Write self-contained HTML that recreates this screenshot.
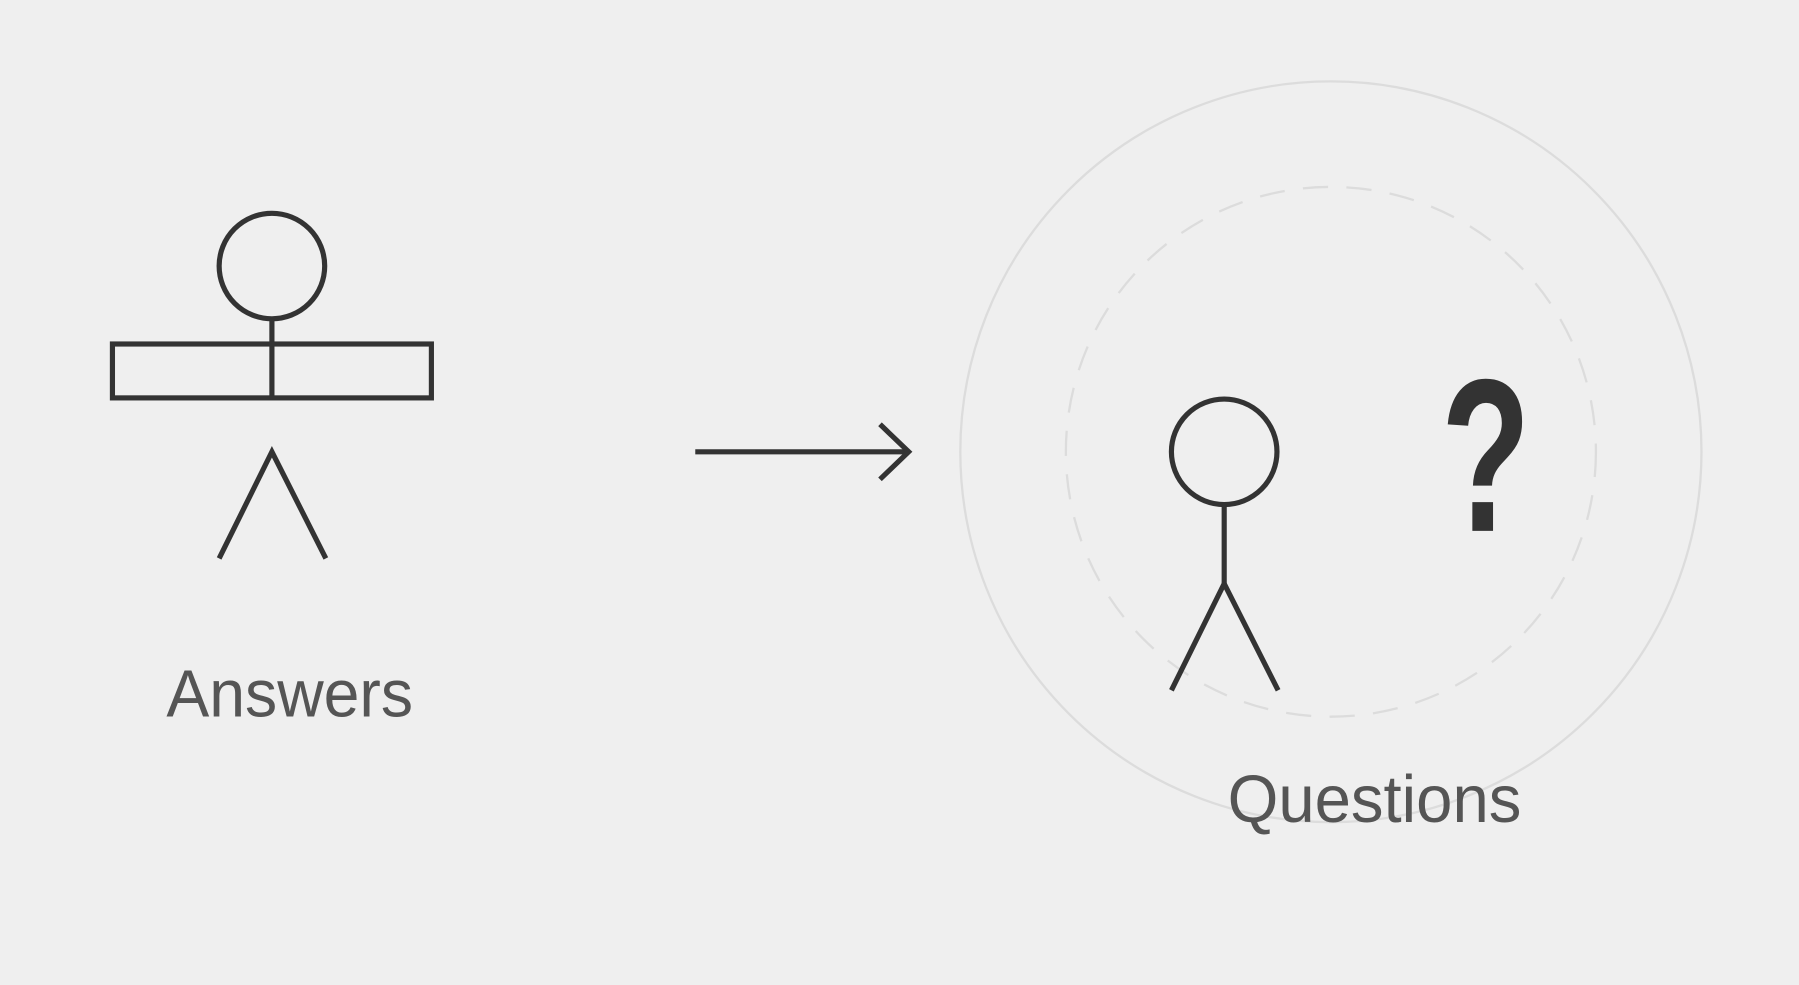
<!DOCTYPE html>
<html><head><meta charset="utf-8"><style>
html,body{margin:0;padding:0;background:#efefef;}
svg{display:block;}
</style></head><body>
<svg width="1799" height="985" viewBox="0 0 1568 859" preserveAspectRatio="none" xmlns="http://www.w3.org/2000/svg">
<rect width="1568" height="859" fill="#efefef"/>
<g fill="none" stroke="#333" stroke-width="4.5">
<circle cx="237" cy="232" r="46"/>
<line x1="237" y1="278" x2="237" y2="347"/>
<rect x="98" y="300" width="278" height="47"/>
<polyline points="191,487 237,394 284,487"/>
<line x1="606" y1="394" x2="790" y2="394"/>
<polyline points="767,370 792,394 767,418"/>
</g>
<circle cx="1160" cy="394" r="323" fill="none" stroke="#dcdcdc" stroke-width="2"/>
<circle cx="1160" cy="394" r="231" fill="none" stroke="#dcdcdc" stroke-width="2" stroke-dasharray="22 16"/>
<g fill="none" stroke="#333" stroke-width="4.5">
<circle cx="1067" cy="394" r="46"/>
<line x1="1067" y1="440" x2="1067" y2="509"/>
<polyline points="1021,602 1067,509 1114,602"/>
</g>
<text x="1256" y="463" font-family="Liberation Sans, sans-serif" font-weight="bold" font-size="190" fill="#333" textLength="78" lengthAdjust="spacingAndGlyphs">?</text>
<text x="145" y="625" font-family="Liberation Sans, sans-serif" font-size="58" fill="#555" textLength="215" lengthAdjust="spacingAndGlyphs">Answers</text>
<text x="1070" y="717" font-family="Liberation Sans, sans-serif" font-size="58" fill="#555" textLength="256" lengthAdjust="spacingAndGlyphs">Questions</text>
</svg>
</body></html>
